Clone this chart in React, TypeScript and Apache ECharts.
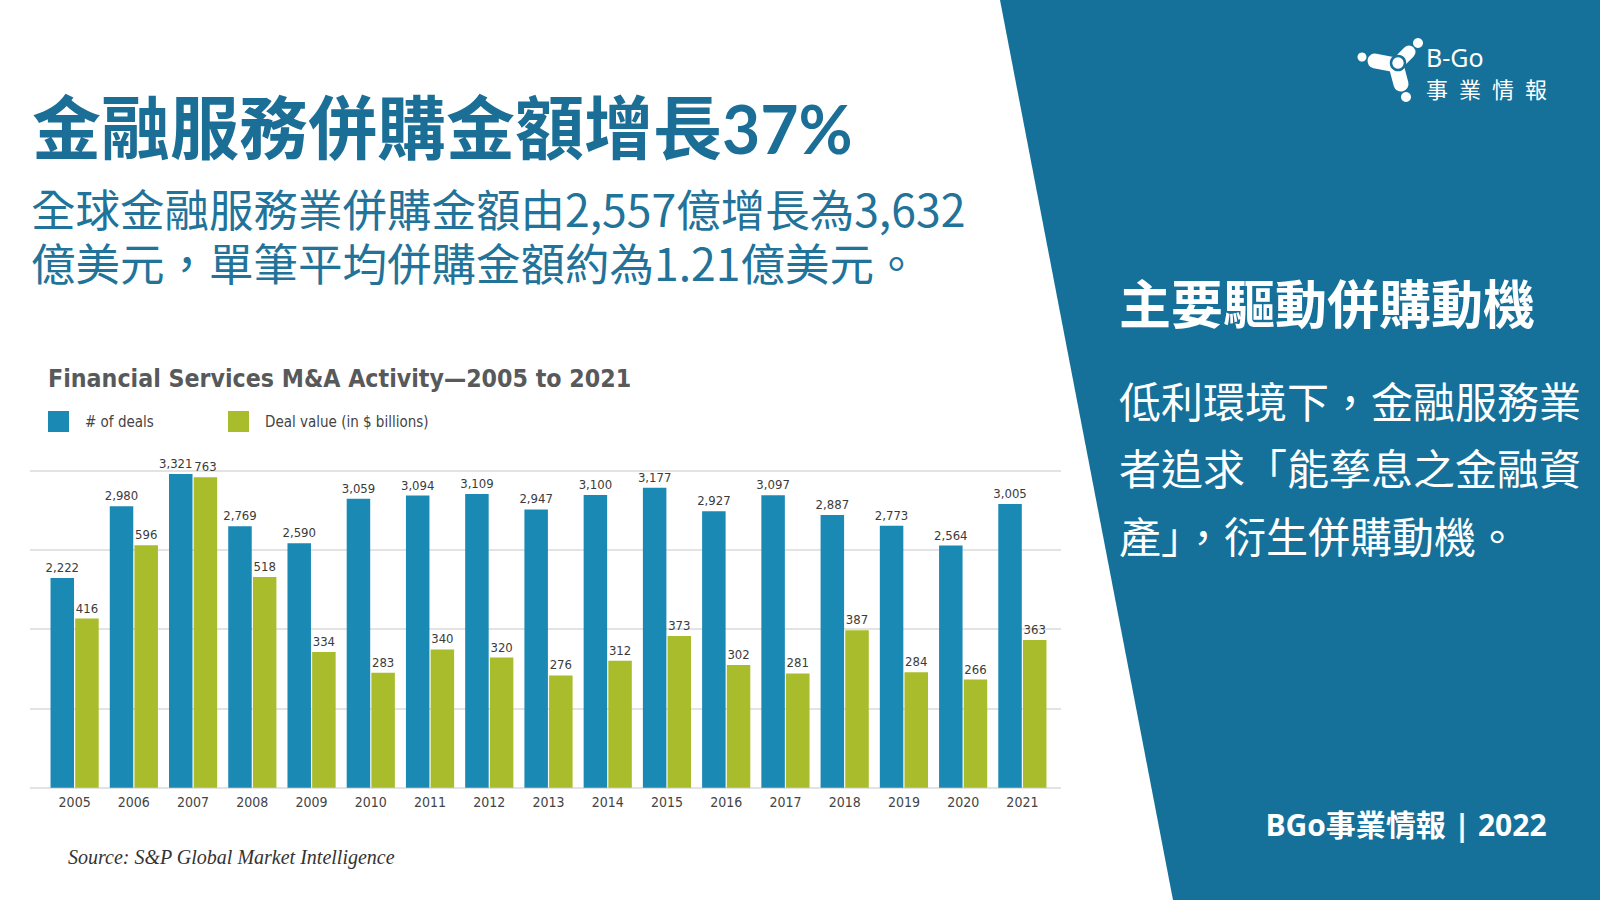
import React, { useEffect, useRef } from "react";
import * as echarts from "echarts";

const years = ["2005", "2006", "2007", "2008", "2009", "2010", "2011", "2012", "2013", "2014", "2015", "2016", "2017", "2018", "2019", "2020", "2021"];
const deals = [2222, 2980, 3321, 2769, 2590, 3059, 3094, 3109, 2947, 3100, 3177, 2927, 3097, 2887, 2773, 2564, 3005];
const dealValue = [416, 596, 763, 518, 334, 283, 340, 320, 276, 312, 373, 302, 281, 387, 284, 266, 363];
const seriesNames = ["# of deals", "Deal value (in $ billions)"];

const chartTitle = "Financial Services M&A Activity\u20142005 to 2021";
const sourceText = "Source: S&P Global Market Intelligence";
const headline = "金融服務併購金額增長";
const headlinePct = "37%";
const subLines = ["全球金融服務業併購金額由2,557億增長為3,632", "億美元，單筆平均併購金額約為1.21億美元。"];
const panelTitle = "主要驅動併購動機";
const panelLines = ["低利環境下，金融服務業", "者追求「能孳息之金融資", "產」，衍生併購動機。"];
const footer = "BGo事業情報 | 2022";
const logoLatin = "B-Go";
const logoCjk = "事\u2002業\u2002情\u2002報";

const NARROW = '"Liberation Sans Narrow", "DejaVu Sans Condensed", "Roboto", sans-serif';
const CJK = '"Noto Sans CJK TC", "Noto Sans CJK SC", sans-serif';
const BLUE = "#1a89b4";
const GREEN = "#a9bc2b";
const PANEL = "#15719a";
const TITLE_BLUE = "#1b6f96";

export default function App() {
  const ref = useRef<HTMLDivElement>(null);

  useEffect(() => {
    if (!ref.current) return;
    const chart = echarts.init(ref.current, undefined, { renderer: "svg" });
    const fmt = (p: any) => Number(p.value).toLocaleString("en-US");
    const labelStyle = {
      show: true,
      position: "top",
      distance: 4,
      formatter: fmt,
      fontFamily: NARROW,
      fontSize: 13,
      color: "#3b3b3b",
    };
    const legendBase = {
      top: 411,
      itemWidth: 21,
      itemHeight: 21,
      padding: 0,
      icon: "rect",
      textStyle: { fontFamily: NARROW, fontSize: 15, color: "#444", padding: [0, 0, 0, 11] },
    };
    const white = "#ffffff";
    // the 2007 pair of labels sit close together: nudge the deal label left as in the source
    const dealsData = deals.map((v) => (v === Math.max(...deals) ? { value: v, label: { offset: [-5, 0] } } : v));
    chart.setOption({
      animation: false,
      backgroundColor: "#ffffff",
      textStyle: { fontFamily: NARROW },
      legend: [
        { ...legendBase, left: 48, data: [seriesNames[0]] },
        { ...legendBase, left: 228, data: [seriesNames[1]] },
      ],
      grid: [
        { left: 45, right: 1600 - 1052, top: 470.4, bottom: 900 - 787.8 },
        { left: 30, right: 1600 - 1061, top: 470.4, bottom: 900 - 787.8 },
      ],
      xAxis: [
        {
          type: "category",
          gridIndex: 0,
          data: years,
          axisLine: { show: false },
          axisTick: { show: false },
          axisLabel: { fontFamily: NARROW, fontSize: 14, color: "#444", margin: 7 },
        },
        { type: "value", gridIndex: 1, min: 0, max: 1, show: false },
      ],
      yAxis: [
        { type: "value", gridIndex: 0, min: 0, max: 3360, interval: 840, show: false },
        { type: "value", gridIndex: 0, min: 0, max: 780, interval: 195, show: false },
        {
          type: "value",
          gridIndex: 1,
          min: 0,
          max: 4,
          interval: 1,
          axisLabel: { show: false },
          axisLine: { show: false },
          axisTick: { show: false },
          splitLine: { show: true, lineStyle: { color: "#e3e3e3", width: 2 } },
        },
      ],
      series: [
        {
          name: seriesNames[0],
          type: "bar",
          xAxisIndex: 0,
          yAxisIndex: 0,
          data: dealsData,
          barWidth: 23.5,
          barGap: "5%",
          itemStyle: { color: BLUE },
          label: labelStyle,
        },
        {
          name: seriesNames[1],
          type: "bar",
          xAxisIndex: 0,
          yAxisIndex: 1,
          data: dealValue,
          barWidth: 23.5,
          barGap: "5%",
          itemStyle: { color: GREEN },
          label: labelStyle,
        },
      ],
      graphic: [
        {
          type: "polygon",
          z: -10,
          shape: { points: [[1000, 0], [1600, 0], [1600, 900], [1173, 900]] },
          style: { fill: PANEL },
        },
        {
          type: "text",
          x: 32,
          y: 124,
          style: { text: headline, fontFamily: CJK, fontWeight: "bold", fontSize: 69, fill: TITLE_BLUE, textAlign: "left", textVerticalAlign: "middle" },
        },
        {
          type: "text",
          x: 722,
          y: 128,
          style: { text: headlinePct, fontFamily: '"Lato", "Open Sans", sans-serif', fontWeight: "bold", fontSize: 66, fill: TITLE_BLUE, textAlign: "left", textVerticalAlign: "middle" },
        },
        {
          type: "text",
          x: 31,
          y: 234.5,
          style: { text: subLines.join("\n"), fontFamily: CJK, fontSize: 44.5, lineHeight: 54, fill: "#22739a", textAlign: "left", textVerticalAlign: "middle" },
        },
        {
          type: "text",
          x: 48,
          y: 378,
          style: { text: chartTitle, fontFamily: NARROW, fontWeight: "bold", fontSize: 24.7, fill: "#58595b", textAlign: "left", textVerticalAlign: "middle" },
        },
        {
          type: "text",
          x: 68,
          y: 857,
          style: { text: sourceText, fontFamily: '"Liberation Serif", "DejaVu Serif", serif', fontStyle: "italic", fontSize: 20, fill: "#333", textAlign: "left", textVerticalAlign: "middle" },
        },
        {
          type: "text",
          x: 1119,
          y: 301,
          style: { text: panelTitle, fontFamily: CJK, fontWeight: "bold", fontSize: 52, fill: white, textAlign: "left", textVerticalAlign: "middle" },
        },
        {
          type: "text",
          x: 1119,
          y: 399 + 67.5,
          style: { text: panelLines.join("\n"), fontFamily: CJK, fontSize: 42, lineHeight: 67.5, fill: white, textAlign: "left", textVerticalAlign: "middle" },
        },
        {
          type: "text",
          x: 1406,
          y: 824,
          style: { text: footer, fontFamily: '"Open Sans", ' + CJK, fontWeight: "bold", fontSize: 30, fill: white, textAlign: "center", textVerticalAlign: "middle" },
        },
        // logo
        {
          type: "group",
          children: [
            { type: "line", shape: { x1: 1396, y1: 65, x2: 1375, y2: 61 }, style: { stroke: white, lineWidth: 15, lineCap: "round" } },
            { type: "line", shape: { x1: 1396, y1: 65, x2: 1409, y2: 52 }, style: { stroke: white, lineWidth: 13, lineCap: "round" } },
            { type: "line", shape: { x1: 1396, y1: 65, x2: 1401, y2: 84 }, style: { stroke: white, lineWidth: 15, lineCap: "round" } },
            { type: "circle", shape: { cx: 1398, cy: 63, r: 7 }, style: { fill: white, stroke: PANEL, lineWidth: 2.5 } },
            { type: "circle", shape: { cx: 1362, cy: 57, r: 4.5 }, style: { fill: white } },
            { type: "circle", shape: { cx: 1418, cy: 43, r: 5 }, style: { fill: white } },
            { type: "circle", shape: { cx: 1406, cy: 97, r: 5 }, style: { fill: white } },
          ],
        },
        {
          type: "text",
          x: 1426,
          y: 57,
          style: { text: logoLatin, fontFamily: '"Noto Sans", sans-serif', fontSize: 25, fill: white, textAlign: "left", textVerticalAlign: "middle" },
        },
        {
          type: "text",
          x: 1426,
          y: 88,
          style: { text: logoCjk, fontFamily: CJK, fontSize: 22, fill: white, textAlign: "left", textVerticalAlign: "middle" },
        },
      ],
    });
    return () => chart.dispose();
  }, []);

  return <div ref={ref} style={{ position: "absolute", left: 0, top: 0, width: 1600, height: 900 }} />;
}
